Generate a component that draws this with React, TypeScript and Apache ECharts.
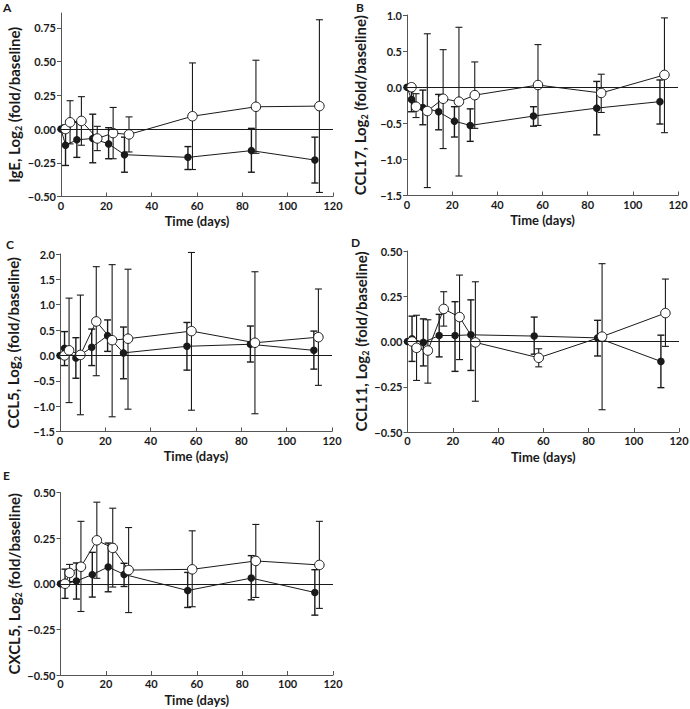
import React, { useEffect, useRef } from "react";
import * as echarts from "echarts";

const DAYS_FILLED = [0, 2, 7, 14, 21, 28, 56, 84, 112];
const DAYS_OPEN = [2, 4, 9, 16, 23, 30, 58, 86, 114];

// Panel A – IgE
const IGE_F = [0, -0.12, -0.08, -0.07, -0.11, -0.19, -0.21, -0.16, -0.23];
const IGE_F_HI = [null, 0.03, 0.05, 0.11, 0.01, -0.06, -0.13, 0.005, -0.06];
const IGE_F_LO = [null, -0.27, -0.21, -0.25, -0.22, -0.32, -0.3, -0.32, -0.4];
const IGE_O = [0, 0.05, 0.06, -0.07, -0.03, -0.04, 0.095, 0.165, 0.17];
const IGE_O_HI = [null, 0.21, 0.24, 0.02, 0.16, 0.09, 0.49, 0.51, 0.81];
const IGE_O_LO = [null, -0.11, -0.12, -0.16, -0.22, -0.17, -0.3, -0.18, -0.47];

// Panel B – CCL17
const CCL17_F = [0, -0.17, -0.28, -0.34, -0.47, -0.53, -0.4, -0.29, -0.2];
const CCL17_F_HI = [null, -0.02, -0.04, -0.1, -0.27, -0.3, -0.27, 0.08, 0.1];
const CCL17_F_LO = [null, -0.34, -0.52, -0.59, -0.69, -0.75, -0.54, -0.66, -0.51];
const CCL17_O = [0, -0.27, -0.33, -0.16, -0.2, -0.11, 0.03, -0.08, 0.17];
const CCL17_O_HI = [null, -0.09, 0.74, 0.52, 0.83, 0.35, 0.59, 0.18, 0.96];
const CCL17_O_LO = [null, -0.42, -1.39, -0.85, -1.23, -0.57, -0.53, -0.35, -0.63];

// Panel C – CCL5
const CCL5_F = [0, 0.14, -0.05, 0.16, 0.39, 0.05, 0.18, 0.22, 0.1];
const CCL5_F_HI = [null, 0.47, 0.35, 0.52, 0.7, 0.56, 0.65, 0.58, 0.48];
const CCL5_F_LO = [null, -0.2, -0.45, -0.2, 0.08, -0.46, -0.29, -0.13, -0.27];
const CCL5_O = [0, 0.1, 0.01, 0.67, 0.3, 0.33, 0.48, 0.25, 0.36];
const CCL5_O_HI = [null, 1.13, 1.19, 1.75, 1.79, 1.7, 2.03, 1.65, 1.31];
const CCL5_O_LO = [null, -0.93, -1.17, -0.4, -1.21, -1.06, -1.08, -1.15, -0.59];

// Panel D – CCL11
const CCL11_F = [0, 0.015, -0.005, 0.033, 0.033, 0.037, 0.03, 0.02, -0.11];
const CCL11_F_HI = [null, 0.14, 0.125, 0.15, 0.22, 0.23, 0.135, 0.117, 0.035];
const CCL11_F_LO = [null, -0.11, -0.135, -0.085, -0.165, -0.16, -0.07, -0.08, -0.255];
const CCL11_O = [0, -0.035, -0.05, 0.18, 0.135, -0.005, -0.09, 0.027, 0.157];
const CCL11_O_HI = [null, 0.145, 0.12, 0.275, 0.367, 0.33, -0.04, 0.43, 0.345];
const CCL11_O_LO = [null, -0.215, -0.23, 0.085, -0.1, -0.33, -0.14, -0.377, -0.027];

// Panel E – CXCL5
const CXCL5_F = [0, 0, 0.015, 0.05, 0.092, 0.051, -0.037, 0.031, -0.048];
const CXCL5_F_HI = [null, 0.08, 0.114, 0.172, 0.223, 0.112, 0.062, 0.154, 0.077];
const CXCL5_F_LO = [null, -0.08, -0.084, -0.073, -0.044, -0.015, -0.13, -0.088, -0.172];
const CXCL5_O = [0, 0.059, 0.093, 0.238, 0.196, 0.075, 0.079, 0.125, 0.103];
const CXCL5_O_HI = [null, 0.106, 0.342, 0.447, 0.414, 0.308, 0.29, 0.325, 0.342];
const CXCL5_O_LO = [null, 0.012, -0.152, 0.03, -0.018, -0.158, -0.126, -0.075, -0.135];

const PANEL_LETTERS = ["A", "B", "C", "D", "E"];
const Y_NAMES = ["IgE", "CCL17", "CCL5", "CCL11", "CXCL5"];
const X_NAME = "Time (days)";

const FONT = 'Lato, "Noto Sans", sans-serif';
const INK = "#1a1a1a";
const AXIS = "#555";

type Panel = {
  grid: { left: number; top: number; width: number; height: number };
  yMin: number;
  yMax: number;
  yInterval: number;
  yLabels?: number[];
  f: number[]; fHi: (number | null)[]; fLo: (number | null)[];
  o: number[]; oHi: (number | null)[]; oLo: (number | null)[];
  letterPos: [number, number];
  decimals: number;
};

const PANELS: Panel[] = [
  {
    grid: { left: 61, top: 13, width: 272, height: 183.5 },
    yMin: -0.5, yMax: 0.86, yInterval: 0.25, yLabels: [-0.5, -0.25, 0, 0.25, 0.5, 0.75],
    f: IGE_F, fHi: IGE_F_HI, fLo: IGE_F_LO, o: IGE_O, oHi: IGE_O_HI, oLo: IGE_O_LO,
    letterPos: [3, 1], decimals: 2,
  },
  {
    grid: { left: 407, top: 15, width: 271, height: 180.5 },
    yMin: -1.5, yMax: 1.0, yInterval: 0.5,
    f: CCL17_F, fHi: CCL17_F_HI, fLo: CCL17_F_LO, o: CCL17_O, oHi: CCL17_O_HI, oLo: CCL17_O_LO,
    letterPos: [356, 1], decimals: 1,
  },
  {
    grid: { left: 60, top: 254, width: 272, height: 177.5 },
    yMin: -1.5, yMax: 2.0, yInterval: 0.5,
    f: CCL5_F, fHi: CCL5_F_HI, fLo: CCL5_F_LO, o: CCL5_O, oHi: CCL5_O_HI, oLo: CCL5_O_LO,
    letterPos: [6, 238], decimals: 1,
  },
  {
    grid: { left: 407.5, top: 251, width: 271.5, height: 181 },
    yMin: -0.5, yMax: 0.5, yInterval: 0.25,
    f: CCL11_F, fHi: CCL11_F_HI, fLo: CCL11_F_LO, o: CCL11_O, oHi: CCL11_O_HI, oLo: CCL11_O_LO,
    letterPos: [351, 236], decimals: 2,
  },
  {
    grid: { left: 60.5, top: 492.5, width: 272.5, height: 182.5 },
    yMin: -0.5, yMax: 0.5, yInterval: 0.25,
    f: CXCL5_F, fHi: CXCL5_F_HI, fLo: CXCL5_F_LO, o: CXCL5_O, oHi: CXCL5_O_HI, oLo: CXCL5_O_LO,
    letterPos: [3, 469], decimals: 2,
  },
];

function fmt(v: number, d: number) {
  const s = Math.abs(v).toFixed(d);
  return v < 0 ? "\u2212" + s : s;
}

function errData(days: number[], lo: (number | null)[], hi: (number | null)[]) {
  const out: number[][] = [];
  days.forEach((d, i) => {
    if (lo[i] != null && hi[i] != null) out.push([d, lo[i] as number, hi[i] as number]);
  });
  return out;
}

function errRender(width: number) {
  return (params: any, api: any) => {
    const x = api.value(0);
    const pLo = api.coord([x, api.value(1)]);
    const pHi = api.coord([x, api.value(2)]);
    const w = 3.5;
    const style = { stroke: INK, lineWidth: width };
    return {
      type: "group",
      children: [
        { type: "line", shape: { x1: pLo[0], y1: pLo[1], x2: pHi[0], y2: pHi[1] }, style },
        { type: "line", shape: { x1: pLo[0] - w, y1: pLo[1], x2: pLo[0] + w, y2: pLo[1] }, style },
        { type: "line", shape: { x1: pHi[0] - w, y1: pHi[1], x2: pHi[0] + w, y2: pHi[1] }, style },
      ],
    };
  };
}

export default function App() {
  const ref = useRef<HTMLDivElement>(null);
  useEffect(() => {
    if (!ref.current) return;
    const chart = echarts.init(ref.current, undefined, { renderer: "svg" });

    const grid: any[] = [];
    const xAxis: any[] = [];
    const yAxis: any[] = [];
    const series: any[] = [];
    const graphic: any[] = [];

    PANELS.forEach((p, i) => {
      grid.push({ ...p.grid, containLabel: false, outerBoundsMode: "none" });
      xAxis.push({
        type: "value",
        gridIndex: i,
        min: 0,
        max: 120,
        interval: 20,
        name: X_NAME,
        nameLocation: "middle",
        nameGap: 18,
        nameTextStyle: { fontFamily: FONT, fontWeight: "bold", fontSize: 13, color: INK },
        axisLine: { show: true, onZero: false, lineStyle: { color: AXIS, width: 1 } },
        axisTick: { show: true, inside: true, length: 4, lineStyle: { color: AXIS } },
        axisLabel: { fontFamily: FONT, fontWeight: "bold", fontSize: 11, color: INK, margin: 3 },
        splitLine: { show: false },
      });
      const yAx: any = {
        type: "value",
        gridIndex: i,
        min: p.yMin,
        max: p.yMax,
        interval: p.yInterval,
        name: `${Y_NAMES[i]}, Log{s|2} (fold/baseline)`,
        nameLocation: "middle",
        nameGap: 38,
        nameTextStyle: {
          fontFamily: FONT, fontWeight: "bold", fontSize: 15, color: INK, lineHeight: 18,
          rich: { s: { fontFamily: FONT, fontWeight: "bold", fontSize: 9, lineHeight: 10, verticalAlign: "bottom", color: INK } },
        },
        axisLine: { show: true, onZero: false, lineStyle: { color: AXIS, width: 1 } },
        axisTick: { show: true, inside: false, length: 4, lineStyle: { color: AXIS } },
        axisLabel: {
          fontFamily: FONT, fontWeight: "bold", fontSize: 11, color: INK, margin: 5,
          formatter: (v: number) => fmt(v, p.decimals),
        },
        splitLine: { show: false },
      };
      if (p.yLabels) {
        yAx.axisLabel.customValues = p.yLabels;
        yAx.axisTick.customValues = p.yLabels;
      }
      yAxis.push(yAx);

      // zero reference line
      series.push({
        type: "line",
        xAxisIndex: i,
        yAxisIndex: i,
        data: [],
        silent: true,
        markLine: {
          silent: true,
          symbol: "none",
          label: { show: false },
          lineStyle: { color: INK, width: 1, type: "solid" },
          data: [{ yAxis: 0 }],
        },
      });
      // error bars
      series.push({
        type: "custom",
        xAxisIndex: i,
        yAxisIndex: i,
        z: 1,
        silent: true,
        renderItem: errRender(1.4),
        data: errData(DAYS_FILLED, p.fLo, p.fHi),
      });
      series.push({
        type: "custom",
        xAxisIndex: i,
        yAxisIndex: i,
        z: 1,
        silent: true,
        renderItem: errRender(1.1),
        data: errData(DAYS_OPEN, p.oLo, p.oHi),
      });
      // filled series
      series.push({
        type: "line",
        xAxisIndex: i,
        yAxisIndex: i,
        z: 3,
        data: DAYS_FILLED.map((d, k) => [d, p.f[k]]),
        symbol: "circle",
        symbolSize: 7.5,
        showAllSymbol: true,
        lineStyle: { color: INK, width: 1 },
        itemStyle: { color: INK, borderColor: INK, borderWidth: 0 },
      });
      // open series
      series.push({
        type: "line",
        xAxisIndex: i,
        yAxisIndex: i,
        z: 4,
        data: DAYS_OPEN.map((d, k) => [d, p.o[k]]),
        symbol: "circle",
        symbolSize: 9.5,
        showAllSymbol: true,
        lineStyle: { color: INK, width: 1 },
        itemStyle: { color: "#ffffff", borderColor: INK, borderWidth: 1 },
      });

      graphic.push({
        type: "text",
        left: p.letterPos[0],
        top: p.letterPos[1],
        style: { text: PANEL_LETTERS[i], fontFamily: FONT, fontWeight: "bold", fontSize: 12, fill: INK },
      });
    });

    chart.setOption({
      animation: false,
      backgroundColor: "#ffffff",
      grid,
      xAxis,
      yAxis,
      series,
      graphic,
    });
    return () => chart.dispose();
  }, []);

  return (
    <div
      ref={ref}
      style={{ position: "absolute", left: 0, top: 0, width: 690, height: 709, background: "#fff" }}
    />
  );
}
